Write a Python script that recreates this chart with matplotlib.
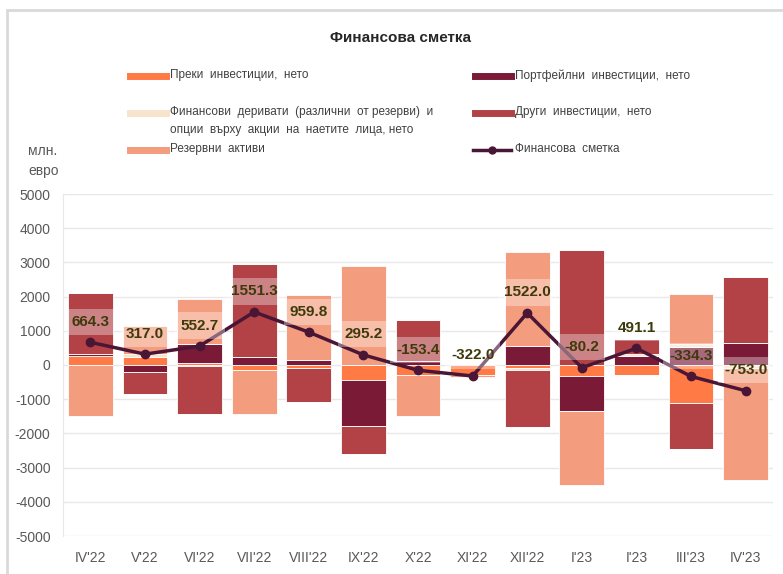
import matplotlib
matplotlib.use("Agg")
import matplotlib.pyplot as plt
from matplotlib.lines import Line2D
from matplotlib.patches import Rectangle
import numpy as np

plt.rcParams['font.family'] = ['Liberation Sans Narrow', 'Liberation Sans', 'DejaVu Sans']
plt.rcParams['axes.unicode_minus'] = False

# categories and series (млн. евро)
months = ["IV'22", "V'22", "VI'22", "VII'22", "VIII'22", "IX'22", "X'22",
          "XI'22", "XII'22", "I'23", "I'23", "III'23", "IV'23"]
direct = [250, 220, 50, -150, -90, -430, -280, -300, -80, -310, -290, -1120, 0]
portfolio = [70, -195, 555, 225, 155, -1345, 127, 40, 545, -1040, 270, 515, 635]
derivatives = [0, 100, -30, 20, 0, 0, 0, 0, -60, 0, 40, 100, -100]
other = [1775, -650, -1400, 2710, -1000, -830, 1190, 0, -1680, 3370, 460, -1345, 1930]
reserve = [-1490, 830, 1315, -1290, 1890, 2900, -1210, -60, 2770, -2145, 0, 1460, -3265]
net = [664.3, 317.0, 552.7, 1551.3, 959.8, 295.2, -153.4, -322.0, 1522.0,
       -80.2, 491.1, -334.3, -753.0]

names = ["Преки  инвестиции,  нето",
         "Портфейлни  инвестиции,  нето",
         "Финансови  деривати  (различни  от резерви)  и\nопции  върху  акции  на  наетите  лица, нето",
         "Други  инвестиции,  нето",
         "Резервни  активи"]
line_name = "Финансова  сметка"
colors = ["#FF7A45", "#7A1A36", "#F8E4CC", "#B24245", "#F49C7E"]
line_color = "#4A1636"

fig = plt.figure(figsize=(7.83, 5.74), dpi=100)
ax = fig.add_axes([63 / 783, 38 / 574, 710 / 783, 342 / 574])

x = np.arange(len(months))
series = [direct, portfolio, derivatives, other, reserve]
pos_base = np.zeros(len(months))
neg_base = np.zeros(len(months))
for vals, c in zip(series, colors):
    v = np.array(vals, dtype=float)
    p = np.where(v > 0, v, 0)
    n = np.where(v < 0, v, 0)
    ax.bar(x, p, 0.82, bottom=pos_base, color=c, edgecolor='white', linewidth=0.6, zorder=2)
    ax.bar(x, n, 0.82, bottom=neg_base, color=c, edgecolor='white', linewidth=0.6, zorder=2)
    pos_base += p
    neg_base += n

ax.plot(x, net, color=line_color, lw=2.5, marker='o', ms=6, zorder=4)

for xi, v in zip(x, net):
    ax.text(xi, v + 600, f"{v:.1f}", ha='center', va='center', fontsize=11,
            fontweight='bold', color='#3E3A0C', zorder=5,
            bbox=dict(boxstyle='square,pad=0.4', facecolor='white', alpha=0.35,
                      edgecolor='none'))

ax.set_xlim(-0.5, len(months) - 0.5)
ax.set_ylim(-5000, 5000)
ax.set_yticks(np.arange(-5000, 5001, 1000))
ax.set_xticks(x)
ax.set_xticklabels(months)
ax.tick_params(axis='both', colors='#595959', labelsize=10, length=0)
ax.tick_params(axis='x', pad=11)
ax.tick_params(axis='y', pad=9)
ax.grid(axis='y', color='#E8E8E8', lw=1, zorder=0)
ax.set_axisbelow(True)
for s in ['top', 'right', 'bottom']:
    ax.spines[s].set_visible(False)
ax.spines['left'].set_color('#E8E8E8')

# frame around the chart
fig.add_artist(Rectangle((7 / 783, -0.02), 1.0, 1 - 10 / 574 + 0.02, transform=fig.transFigure,
                         fill=False, edgecolor='#D9D9D9', lw=2))

fig.text(401 / 783, 1 - 38 / 574, "Финансова сметка", ha='center', va='center',
         fontsize=11, fontweight='bold', color='#262626')

fig.text(28 / 783, 1 - 161 / 574, "млн.\nевро", ha='left', va='center',
         fontsize=10, color='#595959', linespacing=1.6)

# legend, laid out as in the reference
entries = [(names[0], colors[0], 130, 76), (names[1], colors[1], 475, 76),
           (names[2], colors[2], 130, 113), (names[3], colors[3], 475, 113),
           (names[4], colors[4], 130, 150)]
for label, c, px, py in entries:
    yy = 1 - py / 574
    fig.add_artist(Line2D([px / 783, (px + 36) / 783], [yy, yy], color=c, lw=5,
                          transform=fig.transFigure))
    fig.text((px + 40) / 783, yy + 7 / 574, label, ha='left', va='top',
             fontsize=8.5, color='#404040', linespacing=1.7)
yy = 1 - 150 / 574
fig.add_artist(Line2D([473 / 783, 511 / 783], [yy, yy], color=line_color, lw=2.5,
                      transform=fig.transFigure))
fig.add_artist(Line2D([492 / 783], [yy], color=line_color, marker='o', ms=5,
                      transform=fig.transFigure))
fig.text(515 / 783, yy + 7 / 574, line_name, ha='left', va='top', fontsize=8.5,
         color='#404040')

fig.savefig("out.png", dpi=100)
